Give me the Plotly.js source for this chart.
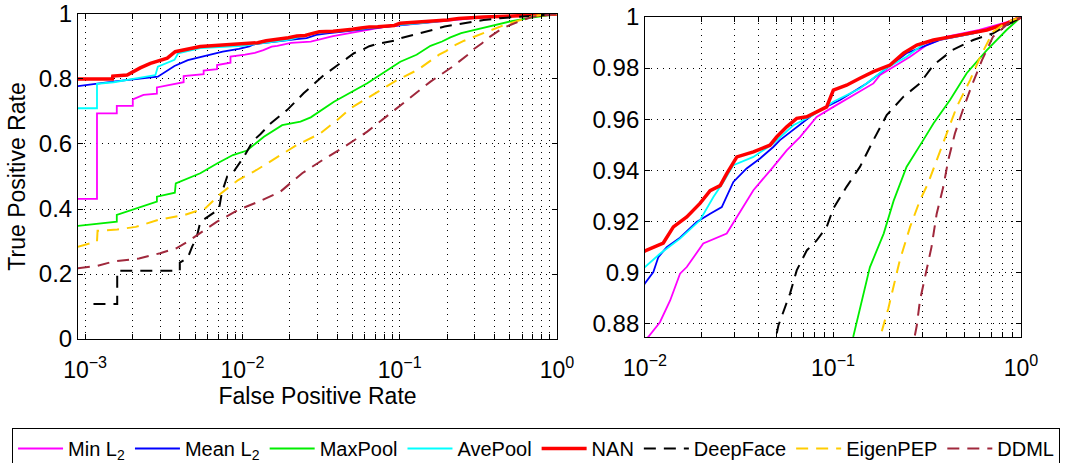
<!DOCTYPE html>
<html>
<head>
<meta charset="utf-8">
<script src="https://cdn.plot.ly/plotly-3.0.1.min.js"></script>
<style>html,body{margin:0;padding:0;background:#fff;}#chart{width:1066px;height:463px;}</style>
</head>
<body>
<div id="chart"></div>
<script>
// ---- data (False Positive Rate / True Positive Rate) ----
const seriesNames = ['Min L<sub>2</sub>', 'Mean L<sub>2</sub>', 'MaxPool', 'AvePool', 'NAN', 'DeepFace', 'EigenPEP', 'DDML'];

const minL2_fpr = [0.0009, 0.00119, 0.00119, 0.00159, 0.00159, 0.00201, 0.00201, 0.00235, 0.00286, 0.00286, 0.00423, 0.00423, 0.00567, 0.00567, 0.0069, 0.0069, 0.0084, 0.0084, 0.0104, 0.0120, 0.0136, 0.01535, 0.01667, 0.0204, 0.0272, 0.0308, 0.0347, 0.0377, 0.0481, 0.0567, 0.0667, 0.0818, 0.1004, 0.128, 0.164, 0.178, 0.210, 0.257, 0.315, 0.403, 0.6, 0.84, 1];
const minL2_tpr = [0.431, 0.431, 0.694, 0.694, 0.717, 0.717, 0.7375, 0.751, 0.755, 0.774, 0.790, 0.809, 0.815, 0.826, 0.830, 0.843, 0.850, 0.869, 0.8747, 0.8805, 0.889, 0.8995, 0.9021, 0.9113, 0.9152, 0.9217, 0.9282, 0.9322, 0.9413, 0.9478, 0.953, 0.9609, 0.9648, 0.9694, 0.974, 0.9773, 0.9805, 0.9844, 0.989, 0.9923, 0.995, 0.998, 1];

const meanL2_fpr = [0.0009, 0.0015, 0.0029, 0.0037, 0.0045, 0.0054, 0.0075, 0.0095, 0.01, 0.01107, 0.01177, 0.01304, 0.01535, 0.01882, 0.0222, 0.0256, 0.0295, 0.0347, 0.0409, 0.0481, 0.0522, 0.0641, 0.0818, 0.1089, 0.151, 0.193, 0.246, 0.371, 0.557, 0.84, 1];
const meanL2_tpr = [0.778, 0.792, 0.807, 0.840, 0.858, 0.868, 0.884, 0.893, 0.8958, 0.9001, 0.906, 0.9099, 0.9136, 0.9197, 0.923, 0.9256, 0.9354, 0.9407, 0.9446, 0.9491, 0.9518, 0.957, 0.9629, 0.9675, 0.974, 0.9799, 0.9858, 0.991, 0.9936, 0.997, 1];

const maxPool_fpr = [0.0009, 0.00159, 0.00159, 0.00201, 0.00286, 0.00286, 0.00372, 0.00377, 0.0054, 0.0069, 0.0087, 0.0107, 0.0137, 0.0179, 0.0234, 0.0272, 0.0382, 0.0622, 0.1009, 0.128, 0.157, 0.186, 0.210, 0.246, 0.302, 0.342, 0.419, 0.514, 0.658, 0.84, 1];
const maxPool_tpr = [0.348, 0.361, 0.382, 0.399, 0.4225, 0.438, 0.45, 0.479, 0.51, 0.54, 0.566, 0.58, 0.6225, 0.658, 0.669, 0.682, 0.73, 0.787, 0.853, 0.8747, 0.902, 0.9152, 0.928, 0.9413, 0.9518, 0.9583, 0.9675, 0.978, 0.987, 0.995, 1];

const avePool_fpr = [0.0009, 0.00119, 0.00119, 0.00152, 0.0028, 0.0029, 0.0037, 0.0039, 0.0054, 0.0088, 0.01, 0.012, 0.01535, 0.0196, 0.0231, 0.0261, 0.0295, 0.0377, 0.0481, 0.0615, 0.0785, 0.1004, 0.139, 0.193, 0.246, 0.315, 0.557, 0.84, 1];
const avePool_tpr = [0.71, 0.71, 0.785, 0.79, 0.812, 0.838, 0.859, 0.879, 0.895, 0.900, 0.9021, 0.9073, 0.9132, 0.9204, 0.9295, 0.9354, 0.942, 0.9452, 0.9505, 0.9576, 0.9616, 0.9668, 0.972, 0.98, 0.9844, 0.9903, 0.9936, 0.997, 1];

const nan_fpr = [0.0009, 0.00149, 0.0015, 0.00185, 0.00224, 0.0026, 0.00333, 0.00374, 0.0054, 0.0088, 0.01, 0.0125, 0.01415, 0.01667, 0.0196, 0.0222, 0.0251, 0.0272, 0.0308, 0.0377, 0.0462, 0.0501, 0.0567, 0.0641, 0.0725, 0.0925, 0.1004, 0.118, 0.139, 0.164, 0.201, 0.237, 0.279, 0.342, 0.474, 0.658, 0.84, 1];
const nan_tpr = [0.800, 0.800, 0.809, 0.812, 0.834, 0.848, 0.864, 0.884, 0.900, 0.906, 0.9084, 0.9115, 0.9178, 0.9217, 0.927, 0.932, 0.934, 0.9387, 0.9452, 0.9472, 0.9498, 0.953, 0.957, 0.9603, 0.9609, 0.9648, 0.9714, 0.9733, 0.976, 0.9786, 0.9812, 0.9858, 0.989, 0.991, 0.9929, 0.9949, 0.9975, 1];

const deepFace_fpr = [0.00113, 0.0016, 0.0016, 0.0040, 0.0040, 0.0045, 0.0048, 0.0051, 0.0054, 0.0071, 0.0074, 0.0080, 0.0088, 0.0102, 0.0117, 0.0130, 0.0151, 0.0193, 0.0245, 0.033, 0.0464, 0.0512, 0.059, 0.0641, 0.0725, 0.0818, 0.0925, 0.1004, 0.118, 0.139, 0.164, 0.193, 0.237, 0.29, 0.342, 0.433, 0.557, 0.71, 1];
const deepFace_tpr = [0.108, 0.108, 0.21, 0.21, 0.235, 0.25, 0.285, 0.31, 0.36, 0.40, 0.45, 0.50, 0.515, 0.56, 0.61, 0.63, 0.663, 0.705, 0.756, 0.812, 0.864, 0.8792, 0.8916, 0.9008, 0.9086, 0.9125, 0.9178, 0.925, 0.9335, 0.9413, 0.9518, 0.9616, 0.9688, 0.974, 0.9812, 0.9871, 0.991, 0.9936, 1];

const eigenPEP_fpr = [0.0009, 0.00119, 0.0012, 0.0016, 0.0021, 0.0029, 0.0043, 0.0058, 0.0073, 0.0094, 0.0123, 0.0162, 0.0222, 0.0314, 0.0401, 0.0488, 0.0653, 0.0757, 0.0966, 0.130, 0.178, 0.197, 0.2265, 0.257, 0.29, 0.32, 0.356, 0.403, 0.455, 0.536, 0.607, 0.71, 0.84, 1];
const eigenPEP_tpr = [0.284, 0.30, 0.333, 0.337, 0.345, 0.366, 0.382, 0.402, 0.448, 0.489, 0.52, 0.556, 0.597, 0.633, 0.674, 0.71, 0.746, 0.766, 0.797, 0.828, 0.8747, 0.886, 0.9047, 0.9178, 0.9282, 0.9348, 0.9439, 0.9544, 0.9648, 0.9753, 0.9844, 0.9942, 0.998, 1];

const ddml_fpr = [0.0009, 0.0012, 0.0015, 0.0022, 0.003, 0.0038, 0.0045, 0.0054, 0.0069, 0.0094, 0.0126, 0.0174, 0.024, 0.0324, 0.0446, 0.0622, 0.0845, 0.114, 0.157, 0.217, 0.279, 0.29, 0.315, 0.334, 0.356, 0.386, 0.41, 0.445, 0.49, 0.544, 0.62, 0.71, 0.84, 1];
const ddml_tpr = [0.2175, 0.225, 0.238, 0.248, 0.264, 0.279, 0.30, 0.325, 0.361, 0.397, 0.422, 0.453, 0.51, 0.551, 0.592, 0.638, 0.689, 0.74, 0.792, 0.838, 0.8792, 0.889, 0.9008, 0.9099, 0.923, 0.9335, 0.9439, 0.9544, 0.9635, 0.9727, 0.9831, 0.9923, 0.997, 1];

// tick labels
const xDecadesLeft = [0.001, 0.01, 0.1, 1];
const xDecadesLeftText = ['10<sup>−3</sup>', '10<sup>−2</sup>', '10<sup>−1</sup>', '10<sup>0</sup>'];
const xDecadesRight = [0.01, 0.1, 1];
const xDecadesRightText = ['10<sup>−2</sup>', '10<sup>−1</sup>', '10<sup>0</sup>'];
const yTicksLeft = [0, 0.2, 0.4, 0.6, 0.8, 1];
const yTicksLeftText = ['0', '0.2', '0.4', '0.6', '0.8', '1'];
const yTicksRight = [0.88, 0.90, 0.92, 0.94, 0.96, 0.98, 1];
const yTicksRightText = ['0.88', '0.9', '0.92', '0.94', '0.96', '0.98', '1'];

// ---- styling ----
const styles = [
  {color: '#ff00ff', width: 1.8, dash: 'solid'},
  {color: '#0000ff', width: 1.8, dash: 'solid'},
  {color: '#00ee00', width: 1.8, dash: 'solid'},
  {color: '#00ffff', width: 1.8, dash: 'solid'},
  {color: '#ff0000', width: 3.5, dash: 'solid'},
  {color: '#000000', width: 2, dash: '12px,8px'},
  {color: '#ffcc00', width: 2, dash: '12px,8px'},
  {color: '#a0283c', width: 2, dash: '12px,8px'}
];
const xs = [minL2_fpr, meanL2_fpr, maxPool_fpr, avePool_fpr, nan_fpr, deepFace_fpr, eigenPEP_fpr, ddml_fpr];
const ys = [minL2_tpr, meanL2_tpr, maxPool_tpr, avePool_tpr, nan_tpr, deepFace_tpr, eigenPEP_tpr, ddml_tpr];

const traces = [];
seriesNames.forEach((name, i) => {
  traces.push({x: xs[i], y: ys[i], name: name, type: 'scatter', mode: 'lines',
    line: styles[i], legendgroup: 'g' + i, showlegend: true, xaxis: 'x', yaxis: 'y', hoverinfo: 'skip'});
});
seriesNames.forEach((name, i) => {
  traces.push({x: xs[i], y: ys[i], name: name, type: 'scatter', mode: 'lines',
    line: styles[i], legendgroup: 'g' + i, showlegend: false, xaxis: 'x2', yaxis: 'y2', hoverinfo: 'skip'});
});

function logTicks(decades, labels) {
  const vals = [], text = [];
  decades.forEach((d, k) => {
    vals.push(d); text.push(labels[k]);
    if (k < decades.length - 1) {
      for (let m = 2; m <= 9; m++) { vals.push(d * m); text.push(''); }
    }
  });
  return {vals, text};
}
const tl = logTicks(xDecadesLeft, xDecadesLeftText);
const tr = logTicks(xDecadesRight, xDecadesRightText);

const FONT = 'Liberation Sans, Arial, sans-serif';
const common = {
  showline: true, mirror: 'ticks', linecolor: '#000', linewidth: 1,
  ticks: 'inside', ticklen: 5, tickcolor: '#000', tickwidth: 1,
  showgrid: true, gridcolor: '#000', gridwidth: 1, griddash: '1px,5px',
  zeroline: false, fixedrange: true
};
const xTickFont = {family: FONT, size: 23, color: '#000'};
const yTickFont = {family: FONT, size: 24, color: '#000'};

const layout = {
  width: 1066, height: 463,
  paper_bgcolor: '#fff', plot_bgcolor: '#fff',
  margin: {l: 0, r: 0, t: 0, b: 0, autoexpand: false},
  font: {family: FONT, size: 23, color: '#000'},
  showlegend: true,
  xaxis: Object.assign({}, common, {type: 'log', domain: [0.0732, 0.5225], range: [-3.045, 0],
    tickmode: 'array', tickvals: tl.vals, ticktext: tl.text, anchor: 'y',
    tickfont: xTickFont, ticklabelstandoff: 10,
    title: {text: 'False Positive Rate', font: {family: FONT, size: 23}, standoff: 4}}),
  yaxis: Object.assign({}, common, {domain: [0.2678, 0.9698], range: [0, 1],
    tickmode: 'array', tickvals: yTicksLeft, ticktext: yTicksLeftText, anchor: 'x',
    tickfont: yTickFont,
    title: {text: 'True Positive Rate', font: {family: FONT, size: 23}, standoff: 6}}),
  xaxis2: Object.assign({}, common, {type: 'log', domain: [0.6051, 0.9578], range: [-2, 0],
    tickmode: 'array', tickvals: tr.vals, ticktext: tr.text, anchor: 'y2',
    tickfont: xTickFont, ticklabelstandoff: 10}),
  yaxis2: Object.assign({}, common, {domain: [0.2721, 0.9633], range: [0.8747, 1],
    tickmode: 'array', tickvals: yTicksRight, ticktext: yTicksRightText, anchor: 'x2',
    tickfont: yTickFont}),
  legend: {orientation: 'h', x: 0.0113, y: 0.0756, xanchor: 'left', yanchor: 'top',
    bgcolor: '#fff', bordercolor: '#000', borderwidth: 1,
    font: {family: FONT, size: 20, color: '#000'}, itemwidth: 45, traceorder: 'normal'}
};

Plotly.newPlot('chart', traces, layout, {displayModeBar: false, staticPlot: true});
</script>
</body>
</html>
